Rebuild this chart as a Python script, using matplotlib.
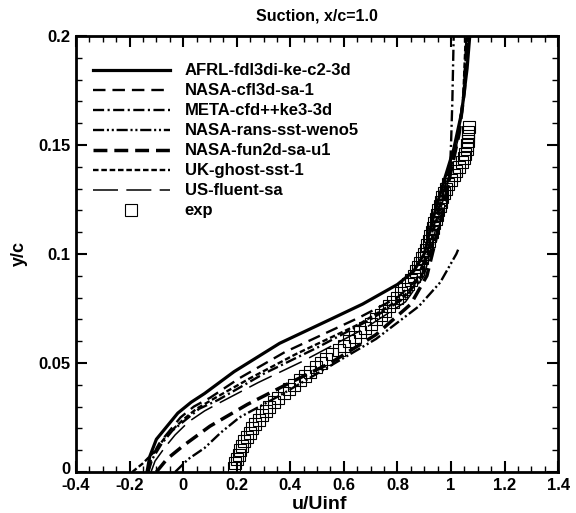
import numpy as np
import matplotlib
matplotlib.use("Agg")
import matplotlib.pyplot as plt
from matplotlib.ticker import MultipleLocator
from matplotlib.transforms import ScaledTranslation

plt.rcParams['font.family'] = ['Liberation Sans', 'DejaVu Sans']
plt.rcParams['font.weight'] = 'bold'
plt.rcParams['lines.scale_dashes'] = False

# profiles: (u/Uinf, y/c)
afrl_u = [-0.135, -0.125, -0.10, -0.06, -0.02, 0.03, 0.08, 0.19, 0.36, 0.55, 0.67, 0.80, 0.86, 0.90, 0.93, 0.97, 1.01, 1.04, 1.06, 1.07]
afrl_y = [0.0, 0.007, 0.015, 0.021, 0.027, 0.032, 0.036, 0.046, 0.059, 0.070, 0.077, 0.086, 0.092, 0.100, 0.115, 0.132, 0.148, 0.165, 0.185, 0.2]

cfl3d_u = [-0.13, -0.12, -0.09, -0.05, -0.01, 0.04, 0.10, 0.21, 0.38, 0.66, 0.80, 0.87, 0.91, 0.94, 0.98, 1.02, 1.045, 1.06]
cfl3d_y = [0.0, 0.006, 0.013, 0.019, 0.025, 0.030, 0.034, 0.043, 0.055, 0.071, 0.080, 0.088, 0.100, 0.115, 0.132, 0.150, 0.170, 0.2]

meta_u = [-0.13, -0.115, -0.08, -0.04, 0.01, 0.06, 0.13, 0.30, 0.50, 0.70, 0.83, 0.89, 0.92, 0.95, 0.98, 0.995, 1.0, 1.005, 1.01]
meta_y = [0.0, 0.006, 0.013, 0.019, 0.024, 0.029, 0.033, 0.045, 0.057, 0.070, 0.080, 0.090, 0.100, 0.110, 0.122, 0.135, 0.150, 0.170, 0.2]

rans_u = [-0.03, 0.02, 0.08, 0.14, 0.21, 0.36, 0.54, 0.72, 0.88, 0.96, 1.02, 1.03]
rans_y = [0.0, 0.006, 0.011, 0.018, 0.025, 0.035, 0.048, 0.061, 0.076, 0.087, 0.100, 0.103]

fun2d_u = [-0.10, -0.06, 0.0, 0.10, 0.24, 0.40, 0.55, 0.72, 0.85, 0.91, 0.94, 0.97, 1.00, 1.03, 1.05, 1.06]
fun2d_y = [0.0, 0.006, 0.012, 0.021, 0.031, 0.041, 0.050, 0.063, 0.077, 0.090, 0.105, 0.120, 0.138, 0.155, 0.175, 0.2]

ghost_u = [-0.19, -0.15, -0.11, -0.06, 0.0, 0.05, 0.12, 0.25, 0.42, 0.66, 0.82, 0.89, 0.92, 0.95, 0.99, 1.02, 1.045, 1.055]
ghost_y = [0.0, 0.004, 0.009, 0.017, 0.024, 0.029, 0.034, 0.043, 0.054, 0.068, 0.080, 0.090, 0.103, 0.118, 0.135, 0.150, 0.170, 0.2]

fluent_u = [-0.12, -0.105, -0.07, -0.03, 0.02, 0.08, 0.14, 0.28, 0.45, 0.68, 0.83, 0.90, 0.93, 0.96, 1.00, 1.03, 1.05, 1.06]
fluent_y = [0.0, 0.005, 0.011, 0.017, 0.023, 0.028, 0.032, 0.041, 0.051, 0.066, 0.078, 0.090, 0.105, 0.120, 0.138, 0.155, 0.175, 0.2]

exp_u = [0.190, 0.195, 0.200, 0.207, 0.213, 0.220, 0.228, 0.238, 0.248, 0.258,
         0.270, 0.282, 0.295, 0.308, 0.322, 0.338, 0.355, 0.375, 0.395, 0.415,
         0.435, 0.455, 0.475, 0.495, 0.515, 0.535, 0.555, 0.580, 0.600, 0.620,
         0.640, 0.660, 0.680, 0.700, 0.720, 0.740, 0.755, 0.770, 0.785, 0.800,
         0.812, 0.825, 0.838, 0.850, 0.860, 0.870, 0.878, 0.886, 0.893, 0.900,
         0.906, 0.912, 0.918, 0.923, 0.928, 0.933, 0.938, 0.943, 0.948, 0.953,
         0.958, 0.963, 0.968, 0.975, 0.982, 0.990, 1.000, 1.010, 1.020, 1.030,
         1.040, 1.048, 1.054, 1.058, 1.060, 1.062, 1.064, 1.065, 1.066]
exp_y = [0.002, 0.004, 0.006, 0.008, 0.010, 0.012, 0.014, 0.016, 0.018, 0.020,
         0.022, 0.024, 0.026, 0.028, 0.030, 0.032, 0.034, 0.036, 0.038, 0.040,
         0.042, 0.044, 0.046, 0.048, 0.050, 0.052, 0.054, 0.056, 0.058, 0.060,
         0.062, 0.064, 0.066, 0.068, 0.070, 0.072, 0.074, 0.076, 0.078, 0.080,
         0.082, 0.084, 0.086, 0.088, 0.090, 0.092, 0.094, 0.096, 0.098, 0.100,
         0.102, 0.104, 0.106, 0.108, 0.110, 0.112, 0.114, 0.116, 0.118, 0.120,
         0.122, 0.124, 0.126, 0.128, 0.130, 0.132, 0.134, 0.136, 0.138, 0.140,
         0.142, 0.144, 0.146, 0.148, 0.150, 0.152, 0.154, 0.156, 0.158]

fig = plt.figure(figsize=(5.76, 5.13), dpi=100)
ax = fig.add_axes([0.132, 0.080, 0.837, 0.850])

ax.plot(afrl_u, afrl_y, color='black', lw=2.3, ls='-', label='AFRL-fdl3di-ke-c2-3d')
ax.plot(cfl3d_u, cfl3d_y, color='black', lw=1.7, ls=(0, (9, 5)), label='NASA-cfl3d-sa-1')
ax.plot(meta_u, meta_y, color='black', lw=1.7, ls=(0, (8, 2.5, 1.5, 2.5)), label='META-cfd++ke3-3d')
ax.plot(rans_u, rans_y, color='black', lw=1.7, ls=(0, (8, 2, 1.5, 2, 1.5, 2)), label='NASA-rans-sst-weno5')
ax.plot(fun2d_u, fun2d_y, color='black', lw=2.5, ls=(0, (10, 5)), label='NASA-fun2d-sa-u1')
ax.plot(ghost_u, ghost_y, color='black', lw=1.7, ls=(0, (4, 2)), label='UK-ghost-sst-1')
ax.plot(fluent_u, fluent_y, color='black', lw=1.1, ls=(0, (18, 6)), label='US-fluent-sa')
ax.plot(exp_u, exp_y, ls='none', marker='s', ms=8, mfc='none', mec='black', mew=0.8, label='exp')

ax.set_xlim(-0.4, 1.4)
ax.set_ylim(0, 0.2)
ax.xaxis.set_minor_locator(MultipleLocator(0.05))
ax.yaxis.set_minor_locator(MultipleLocator(0.01))
ax.set_xticks(np.arange(-0.4, 1.41, 0.2))
ax.set_xticklabels(['-0.4', '-0.2', '0', '0.2', '0.4', '0.6', '0.8', '1', '1.2', '1.4'])
ax.set_yticks([0, 0.05, 0.1, 0.15, 0.2])
ax.set_yticklabels(['0', '0.05', '0.1', '0.15', '0.2'])
ax.tick_params(which='both', direction='in', top=True, right=True, labelsize=12)
ax.tick_params(which='major', length=8, width=1.5, pad=4)
ax.tick_params(which='minor', length=4, width=1.0)
for s in ax.spines.values():
    s.set_linewidth(2)

# nudge the y "0" label up so it clears "-0.4"
lbl0 = ax.get_yticklabels()[0]
lbl0.set_transform(lbl0.get_transform() + ScaledTranslation(0, 4 / 100, fig.dpi_scale_trans))

ax.set_xlabel('u/Uinf', fontsize=14, fontweight='bold')
ax.xaxis.set_label_coords(0.506, -0.056)
ax.set_ylabel('y/c', fontsize=13, fontweight='bold')
ax.yaxis.set_label_coords(-0.1, 0.5)
ax.set_title('Suction, x/c=1.0', fontsize=11.5, fontweight='bold', pad=11)

ax.legend(loc='upper left', bbox_to_anchor=(0.035, 0.937), frameon=False,
          handlelength=4.6, handletextpad=0.9, labelspacing=0.3, borderpad=0, borderaxespad=0,
          prop={'weight': 'bold', 'size': 12})

fig.savefig('out.png', dpi=100)
